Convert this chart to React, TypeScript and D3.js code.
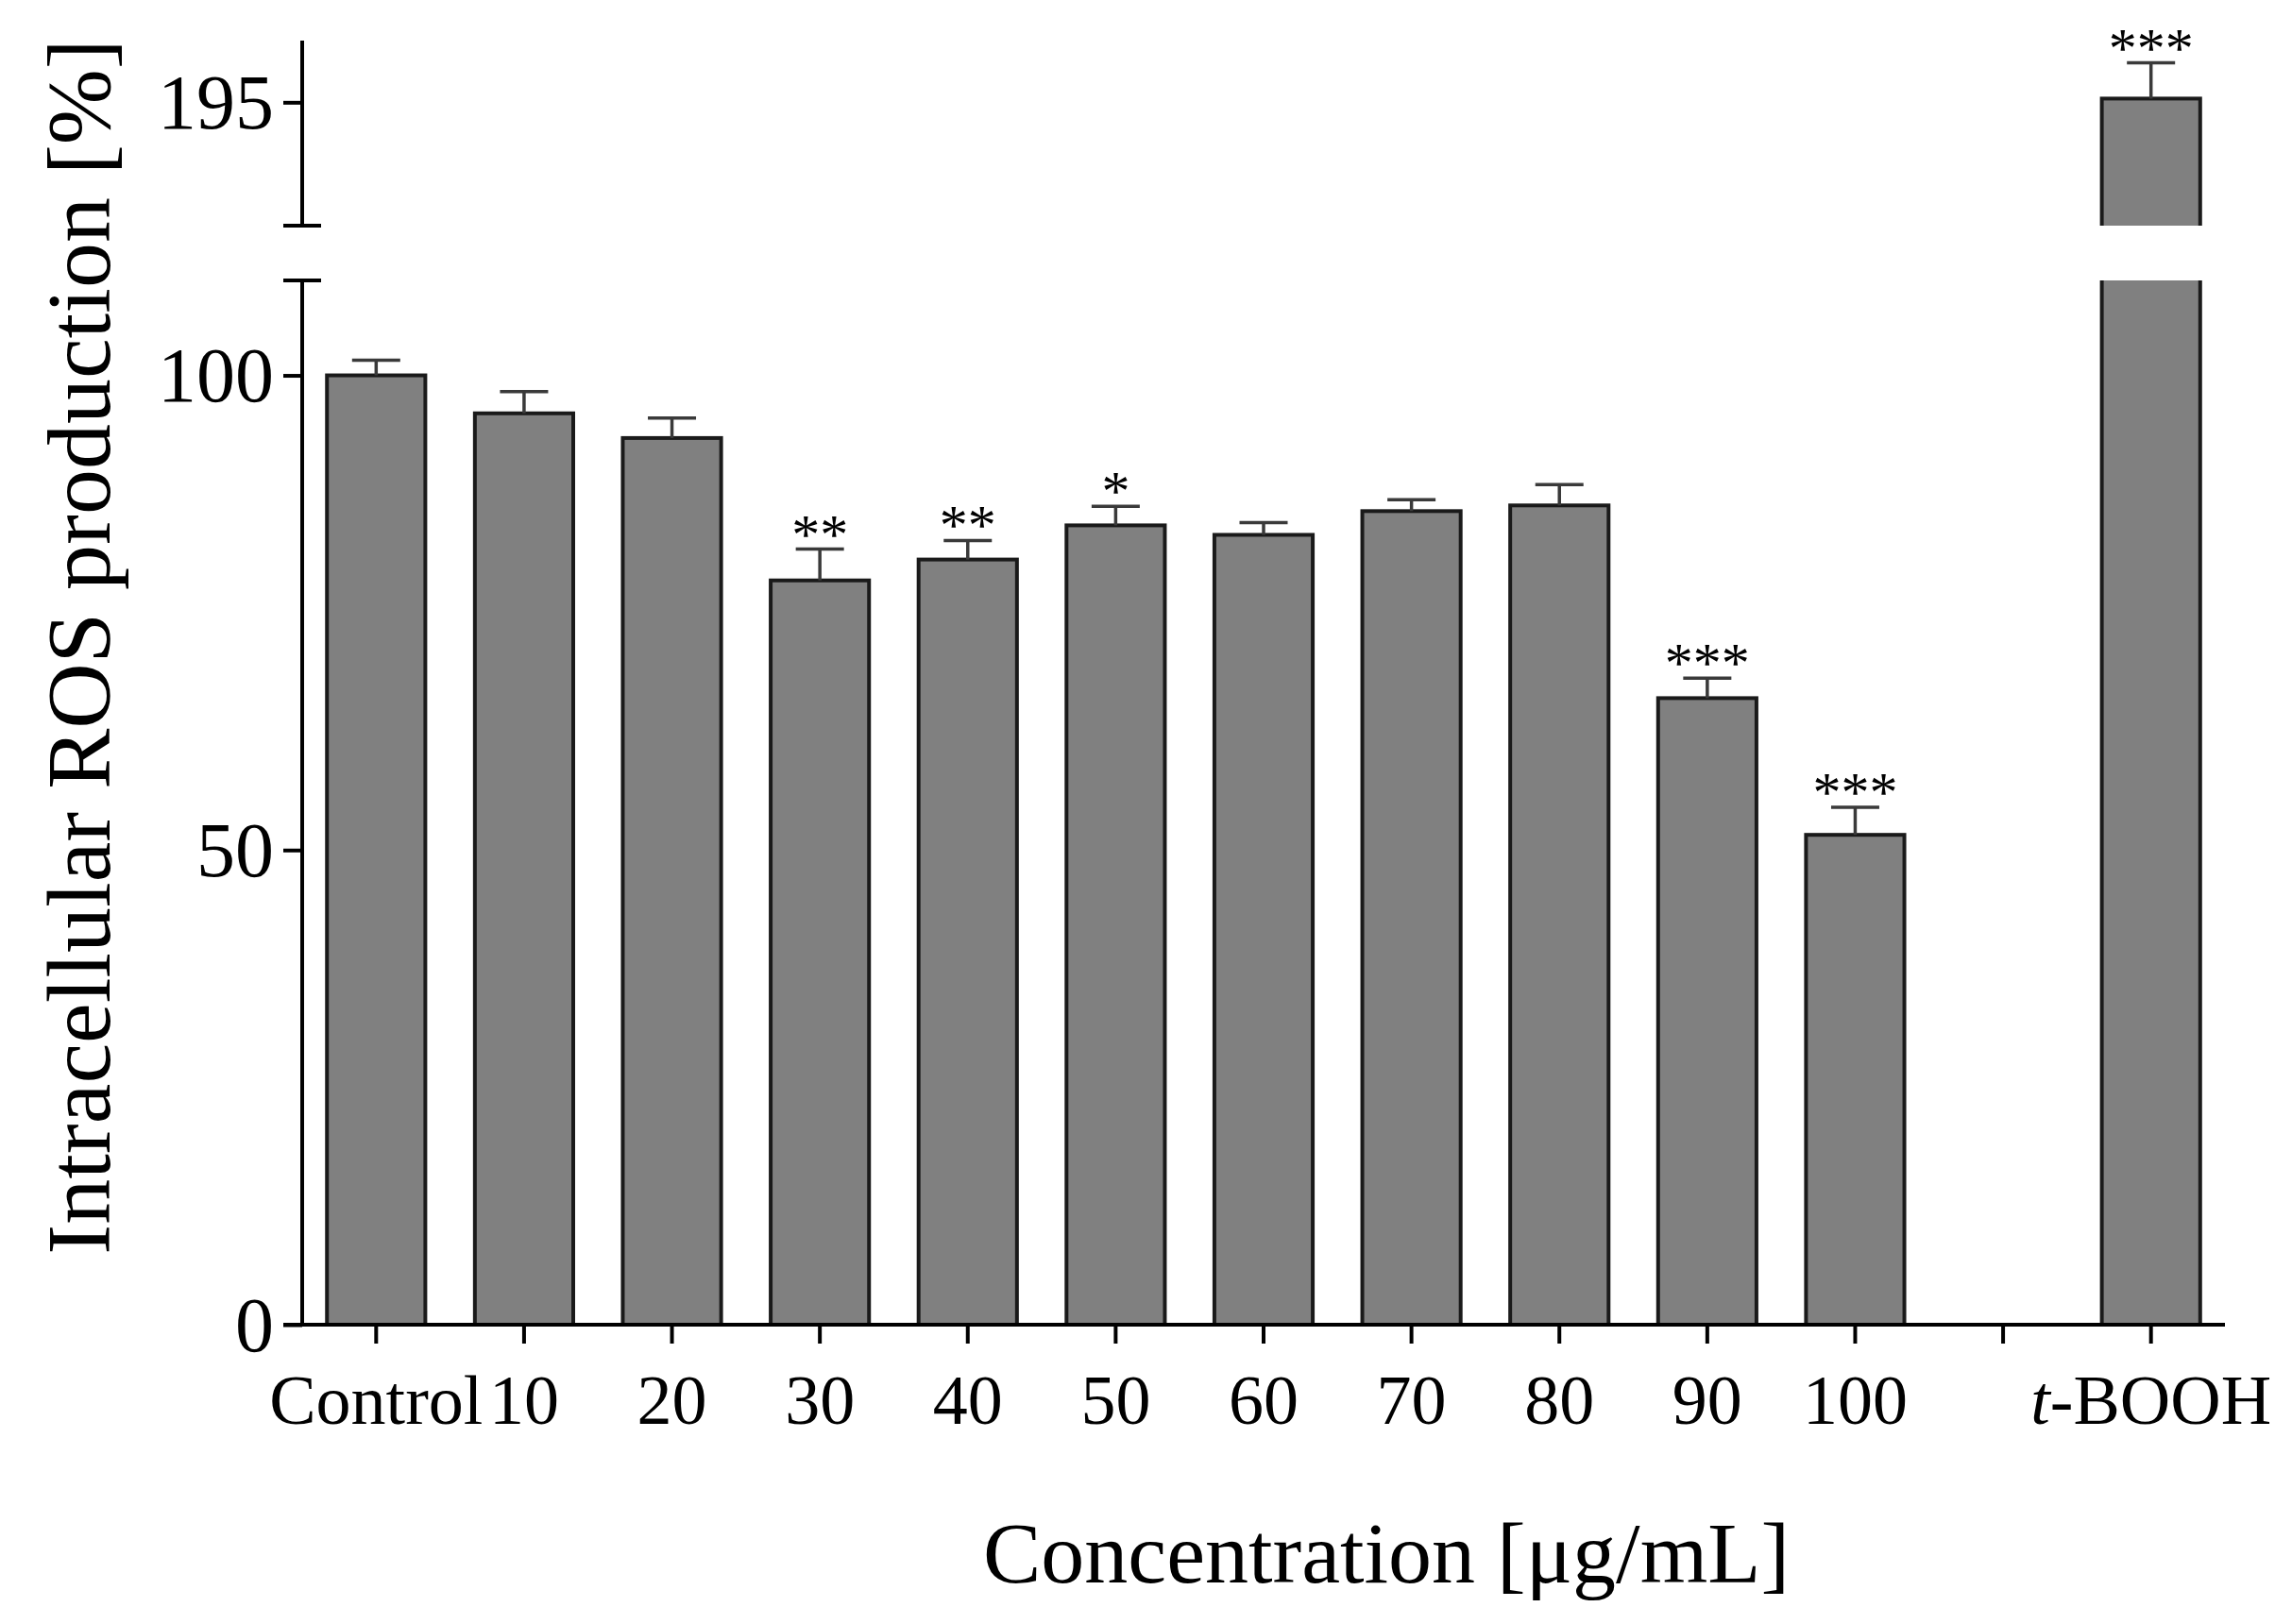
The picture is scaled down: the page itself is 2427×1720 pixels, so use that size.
import React, { useRef, useEffect } from 'react'
import * as d3 from "d3";

// data
const categories = ["Control", "10", "20", "30", "40", "50", "60", "70", "80", "90", "100", "", "t-BOOH"];
const means = [100.0, 96.0, 93.4, 78.4, 80.6, 84.2, 83.2, 85.7, 86.3, 66.0, 51.6, null, 195.3];
const errors = [1.6, 2.3, 2.1, 3.3, 2.0, 2.0, 1.3, 1.2, 2.2, 2.1, 2.9, null, 2.9];
const stars = ["", "", "", "**", "**", "*", "", "", "", "***", "***", "", "***"];
const lowerTicks = [0, 50, 100];
const upperTicks = [195];
const lowerDomain: [number, number] = [0, 110];
const upperDomain: [number, number] = [185, 200];

const W = 2427;
const H = 1720;
const FONT = "'Liberation Serif', 'Times New Roman', serif";

export default function App() {
  const ref = useRef<SVGSVGElement | null>(null);

  useEffect(() => {
    if (!ref.current) return;
    const svg = d3.select(ref.current);
    svg.selectAll("*").remove();

    // chart frame
    const left = 320, right = 2356;
    const baseY = 1403, lowerTop = 297;
    const upperBottom = 239, upperTop = 43;

    const x = d3.scaleBand<string>()
      .domain(categories)
      .range([left, right])
      .paddingInner(0.335)
      .paddingOuter(0.335 / 2);

    const yLow = d3.scaleLinear().domain(lowerDomain).range([baseY, lowerTop]);
    const yUp = d3.scaleLinear().domain(upperDomain).range([upperBottom, upperTop]);
    const yFor = (v: number) => (v > lowerDomain[1] ? yUp(v) : yLow(v));

    const defs = svg.append("defs");
    defs.append("clipPath").attr("id", "clipUp")
      .append("rect").attr("x", 0).attr("y", 0).attr("width", W).attr("height", upperBottom);
    defs.append("clipPath").attr("id", "clipLow")
      .append("rect").attr("x", 0).attr("y", lowerTop).attr("width", W).attr("height", H - lowerTop);

    const data = categories.map((c, i) => ({ c, m: means[i], e: errors[i], s: stars[i] }))
      .filter(d => d.m !== null) as { c: string, m: number, e: number, s: string }[];

    const bars = svg.append("g");
    const bw = x.bandwidth();

    data.forEach(d => {
      const bx = x(d.c) as number;
      if (d.m <= lowerDomain[1]) {
        bars.append("rect")
          .attr("x", bx).attr("y", yLow(d.m))
          .attr("width", bw).attr("height", baseY - yLow(d.m))
          .attr("fill", "#808080").attr("stroke", "#1a1a1a").attr("stroke-width", 4);
      } else {
        // broken bar: one piece in each axis segment
        bars.append("rect")
          .attr("clip-path", "url(#clipUp)")
          .attr("x", bx).attr("y", yUp(d.m))
          .attr("width", bw).attr("height", upperBottom + 20 - yUp(d.m))
          .attr("fill", "#808080").attr("stroke", "#1a1a1a").attr("stroke-width", 4);
        bars.append("rect")
          .attr("clip-path", "url(#clipLow)")
          .attr("x", bx).attr("y", lowerTop - 20)
          .attr("width", bw).attr("height", baseY - lowerTop + 20)
          .attr("fill", "#808080").attr("stroke", "#1a1a1a").attr("stroke-width", 4);
      }
    });

    // error bars (upper side only)
    const errs = svg.append("g").attr("stroke", "#3a3a3a").attr("stroke-width", 3.5);
    data.forEach(d => {
      const cx = (x(d.c) as number) + bw / 2;
      const y0 = yFor(d.m), y1 = yFor(d.m + d.e);
      errs.append("line").attr("x1", cx).attr("x2", cx).attr("y1", y0).attr("y2", y1);
      errs.append("line").attr("x1", cx - 25.5).attr("x2", cx + 25.5).attr("y1", y1).attr("y2", y1);
    });

    // significance stars
    svg.append("g")
      .selectAll("text")
      .data(data.filter(d => d.s))
      .join("text")
      .attr("x", d => (x(d.c) as number) + bw / 2)
      .attr("y", d => yFor(d.m + d.e) + 4)
      .attr("text-anchor", "middle")
      .attr("font-family", FONT)
      .attr("font-size", 60)
      .attr("fill", "#000")
      .text(d => d.s);

    // x axis
    const xAxis = svg.append("g")
      .attr("transform", `translate(0,${baseY})`)
      .call(d3.axisBottom(x).tickSize(20).tickSizeOuter(0));
    xAxis.select(".domain").remove();
    xAxis.selectAll(".tick line").attr("stroke", "#000").attr("stroke-width", 4);
    xAxis.selectAll<SVGTextElement, string>(".tick text")
      .attr("y", 105).attr("dy", 0)
      .attr("font-family", FONT).attr("font-size", 74).attr("fill", "#000")
      .each(function (d) {
        if (d === "t-BOOH") {
          const t = d3.select(this);
          t.text(null);
          t.append("tspan").attr("font-style", "italic").text("t");
          t.append("tspan").text("-BOOH");
        }
      });
    svg.append("line")
      .attr("x1", left - 20).attr("x2", right)
      .attr("y1", baseY).attr("y2", baseY)
      .attr("stroke", "#000").attr("stroke-width", 4);

    // y axis, lower segment
    const yAxisLow = svg.append("g")
      .attr("transform", `translate(${left},0)`)
      .call(d3.axisLeft(yLow).tickValues(lowerTicks).tickSize(20).tickPadding(10).tickSizeOuter(0));
    yAxisLow.select(".domain").remove();
    // y axis, upper segment
    const yAxisUp = svg.append("g")
      .attr("transform", `translate(${left},0)`)
      .call(d3.axisLeft(yUp).tickValues(upperTicks).tickSize(20).tickPadding(10).tickSizeOuter(0));
    yAxisUp.select(".domain").remove();

    [yAxisLow, yAxisUp].forEach(g => {
      g.selectAll(".tick line").attr("stroke", "#000").attr("stroke-width", 4);
      g.selectAll(".tick text")
        .attr("font-family", FONT).attr("font-size", 82).attr("fill", "#000")
        .attr("dy", "0.33em");
    });

    const axisPaths = svg.append("g").attr("stroke", "#000").attr("stroke-width", 4).attr("fill", "none");
    axisPaths.append("line").attr("x1", left).attr("x2", left).attr("y1", lowerTop).attr("y2", baseY + 2);
    axisPaths.append("line").attr("x1", left - 20).attr("x2", left + 20).attr("y1", lowerTop).attr("y2", lowerTop);
    axisPaths.append("line").attr("x1", left).attr("x2", left).attr("y1", upperTop).attr("y2", upperBottom);
    axisPaths.append("line").attr("x1", left - 20).attr("x2", left + 20).attr("y1", upperBottom).attr("y2", upperBottom);

    // axis titles
    svg.append("text")
      .attr("x", 1468).attr("y", 1676)
      .attr("text-anchor", "middle")
      .attr("font-family", FONT).attr("font-size", 92).attr("fill", "#000")
      .text("Concentration [μg/mL]");

    svg.append("text")
      .attr("transform", `translate(116,685) rotate(-90)`)
      .attr("text-anchor", "middle")
      .attr("font-family", FONT).attr("font-size", 96).attr("fill", "#000")
      .text("Intracellular ROS production [%]");
  }, []);

  return (
    <svg
      ref={ref}
      width={W}
      height={H}
      style={{ position: "absolute", left: 0, top: 0, background: "#fff" }}
    />
  );
}
